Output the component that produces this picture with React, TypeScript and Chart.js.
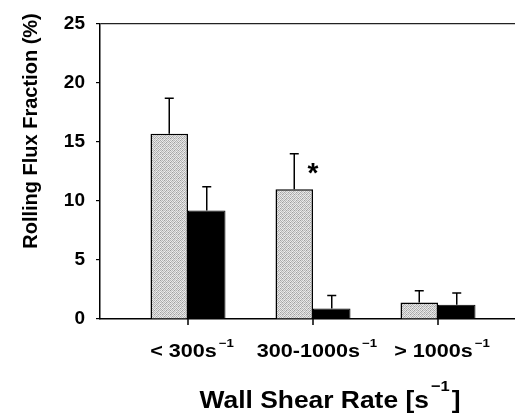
import React, { useEffect, useRef } from 'react';
import { Chart, registerables } from 'chart.js';

Chart.register(...registerables);

// ---- data ----
const categories = ['< 300', '300-1000', '> 1000'];
const unitBase = 's';
const unitSup = '\u22121';
const grayValues = [15.7, 11.0, 1.4];
const grayErrors = [3.0, 3.0, 1.0];
const blackValues = [9.2, 0.9, 1.2];
const blackErrors = [2.0, 1.1, 1.0];
const significance = ['', '*', ''];
const yMin = 0;
const yMax = 25;
const yStep = 5;
const yTitle = 'Rolling Flux Fraction (%)';
const xTitleBase = 'Wall Shear Rate [s';
const xTitleSup = '\u22121';
const xTitleEnd = ']';

const grayLevels = [
  [160, 220, 182, 230, 170, 224, 192, 234],
  [226, 186, 236, 168, 232, 178, 240, 186],
  [178, 232, 156, 218, 190, 228, 160, 220],
  [236, 192, 222, 198, 242, 180, 230, 196],
  [170, 234, 186, 230, 160, 218, 182, 236],
  [228, 174, 240, 182, 226, 194, 234, 176],
  [186, 222, 160, 228, 184, 236, 158, 226],
  [240, 184, 230, 192, 232, 170, 220, 198],
];

function makePattern(): CanvasPattern | string {
  const n = grayLevels.length;
  const c = document.createElement('canvas');
  c.width = n;
  c.height = n;
  const cx = c.getContext('2d');
  if (!cx) return '#c0c0c0';
  for (let r = 0; r < n; r++) {
    for (let k = 0; k < n; k++) {
      const g = grayLevels[r][k];
      cx.fillStyle = `rgb(${g},${g},${g})`;
      cx.fillRect(k, r, 1, 1);
    }
  }
  const p = cx.createPattern(c, 'repeat');
  return p || '#c0c0c0';
}

const errorsByDataset = [grayErrors, blackErrors];

const errorBarPlugin = {
  id: 'errorBars',
  afterDraw(chart: any) {
    const ctx = chart.ctx;
    const yScale = chart.scales.y;
    const xScale = chart.scales.x;
    ctx.save();
    ctx.strokeStyle = '#000';
    ctx.lineWidth = 1.5;
    chart.data.datasets.forEach((ds: any, d: number) => {
      const meta = chart.getDatasetMeta(d);
      meta.data.forEach((bar: any, i: number) => {
        const v = ds.data[i].y;
        const e = errorsByDataset[d][i];
        const top = yScale.getPixelForValue(v + e);
        ctx.beginPath();
        ctx.moveTo(bar.x, bar.y);
        ctx.lineTo(bar.x, top);
        ctx.moveTo(bar.x - 4.5, top);
        ctx.lineTo(bar.x + 4.5, top);
        ctx.stroke();
      });
    });
    // category tick marks below the axis
    ctx.lineWidth = 1.5;
    const base = yScale.getPixelForValue(yMin);
    categories.forEach((_, i) => {
      const x = xScale.getPixelForValue(i + 1);
      ctx.beginPath();
      ctx.moveTo(x, base);
      ctx.lineTo(x, base + 6);
      ctx.stroke();
    });
    // significance marks
    const m0 = chart.getDatasetMeta(0);
    const m1 = chart.getDatasetMeta(1);
    ctx.fillStyle = '#000';
    ctx.font = 'bold 28px "Liberation Sans", Arial, sans-serif';
    ctx.textAlign = 'center';
    ctx.textBaseline = 'alphabetic';
    significance.forEach((s, i) => {
      if (!s) return;
      const x = (m0.data[i].x + m1.data[i].x) / 2;
      const top = yScale.getPixelForValue(grayValues[i] + grayErrors[i]);
      ctx.fillText(s, x, top + 28);
    });
    ctx.restore();
  },
};

function drawStretched(ctx: CanvasRenderingContext2D, text: string, x: number, y: number, sx: number) {
  ctx.save();
  ctx.translate(x, y);
  ctx.scale(sx, 1);
  ctx.fillText(text, 0, 0);
  ctx.restore();
}

const textPlugin = {
  id: 'texts',
  afterDraw(chart: any) {
    const ctx = chart.ctx;
    const xScale = chart.scales.x;
    ctx.save();
    ctx.fillStyle = '#000';
    // x tick labels with superscript
    ctx.textBaseline = 'alphabetic';
    ctx.textAlign = 'left';
    const sx = 1.2;
    const baseFont = 'bold 18px "Liberation Sans", Arial, sans-serif';
    const supFont = 'bold 11px "Liberation Sans", Arial, sans-serif';
    categories.forEach((c, i) => {
      const base = c + unitBase;
      ctx.font = baseFont;
      const wb = ctx.measureText(base).width * sx;
      ctx.font = supFont;
      const ws = ctx.measureText(unitSup).width * sx;
      const total = wb + 2 + ws;
      const cx = xScale.getPixelForValue(i + 1) + 4;
      const x0 = cx - total / 2;
      ctx.font = baseFont;
      drawStretched(ctx, base, x0, 357, sx);
      ctx.font = supFont;
      drawStretched(ctx, unitSup, x0 + wb + 2, 347, sx);
    });
    // x title
    const tx_s = 1.1;
    const tFont = 'bold 24px "Liberation Sans", Arial, sans-serif';
    const tsFont = 'bold 15px "Liberation Sans", Arial, sans-serif';
    ctx.font = tFont;
    const w1 = ctx.measureText(xTitleBase).width * tx_s;
    const w3 = ctx.measureText(xTitleEnd).width * tx_s;
    ctx.font = tsFont;
    const w2 = ctx.measureText(xTitleSup).width * tx_s;
    const tw = w1 + 2 + w2 + 2 + w3;
    const tx = 330 - tw / 2;
    ctx.font = tFont;
    drawStretched(ctx, xTitleBase, tx, 408, tx_s);
    ctx.font = tsFont;
    drawStretched(ctx, xTitleSup, tx + w1 + 2, 391, tx_s);
    ctx.font = tFont;
    drawStretched(ctx, xTitleEnd, tx + w1 + 2 + w2 + 2, 408, tx_s);
    // y title
    ctx.translate(31, 131);
    ctx.rotate(-Math.PI / 2);
    ctx.textAlign = 'center';
    ctx.textBaseline = 'middle';
    ctx.font = 'bold 20px "Liberation Sans", Arial, sans-serif';
    ctx.fillText(yTitle, 0, 0);
    ctx.restore();
  },
};

export default function App() {
  const ref = useRef<HTMLCanvasElement | null>(null);
  useEffect(() => {
    if (!ref.current) return;
    const pattern = makePattern();
    const chart = new Chart(ref.current, {
      type: 'bar',
      data: {
        datasets: [
          {
            label: 'gray',
            data: grayValues.map((v, i) => ({ x: i + 1, y: v })),
            backgroundColor: pattern as any,
            borderColor: '#000',
            borderWidth: 1.5,
            categoryPercentage: 0.6,
            barPercentage: 1,
          },
          {
            label: 'black',
            data: blackValues.map((v, i) => ({ x: i + 1, y: v })),
            backgroundColor: '#000',
            borderColor: '#000',
            borderWidth: 1,
            categoryPercentage: 0.6,
            barPercentage: 1,
          },
        ],
      },
      options: {
        responsive: false,
        animation: false,
        devicePixelRatio: 1,
        events: [],
        layout: { padding: { top: 24, left: 0, right: 0, bottom: 0 } },
        plugins: {
          legend: { display: false },
          tooltip: { enabled: false },
          title: { display: false },
        },
        scales: {
          x: {
            type: 'linear',
            min: 0.296,
            max: 3.616,
            offset: false,
            afterBuildTicks: (scale: any) => {
              scale.ticks = categories.map((_, i) => ({ value: i + 1 }));
            },
            afterFit: (scale: any) => {
              scale.height = 94;
            },
            ticks: { display: false },
            grid: {
              offset: false,
              drawOnChartArea: false,
              drawTicks: false,
            },
            border: { display: true, color: '#000', width: 1.5 },
          },
          y: {
            min: yMin,
            max: yMax,
            afterFit: (scale: any) => {
              scale.width = 100;
            },
            ticks: {
              stepSize: yStep,
              color: '#000',
              padding: 11,
              font: { family: '"Liberation Sans", Arial, sans-serif', size: 19, weight: 'bold' },
            },
            grid: {
              drawOnChartArea: true,
              color: (c: any) => (c.tick && c.tick.value === yMax ? '#222' : 'rgba(0,0,0,0)'),
              tickColor: '#000',
              tickLength: 4,
              lineWidth: 1.2,
            },
            border: { display: true, color: '#000', width: 1.5 },
          },
        },
      } as any,
      plugins: [errorBarPlugin, textPlugin],
    });
    return () => chart.destroy();
  }, []);
  return (
    <div style={{ position: 'absolute', left: 0, top: 0, width: 515, height: 413, background: '#fff' }}>
      <canvas ref={ref} width={515} height={413} style={{ display: 'block' }} />
    </div>
  );
}
